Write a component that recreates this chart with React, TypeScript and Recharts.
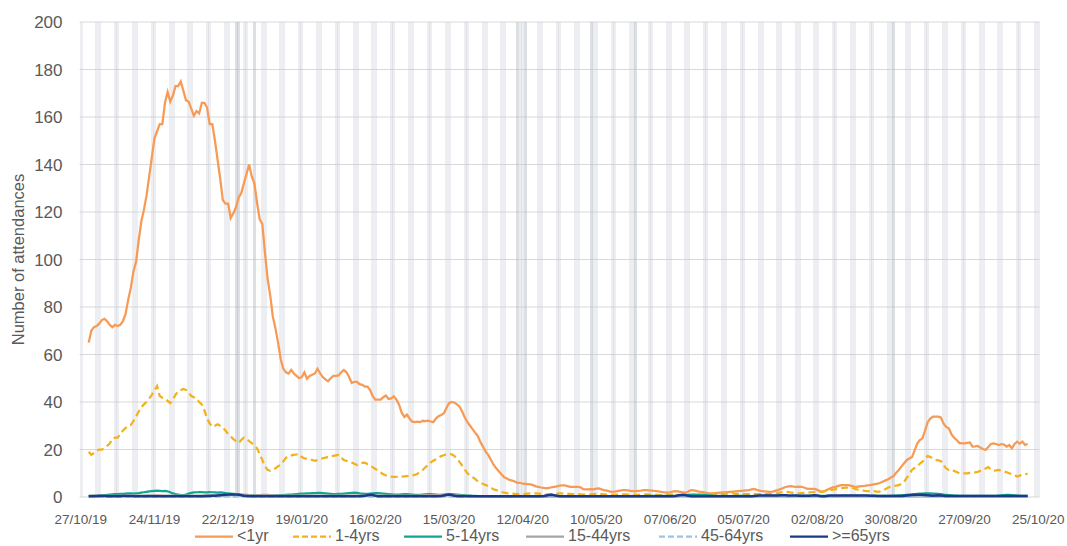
import React from 'react';
import { ComposedChart, Bar, Line, XAxis, YAxis, CartesianGrid } from 'recharts';

// ---- categories: one per day, 27/10/19 .. 25/10/20 ----
const START_UTC = Date.UTC(2019, 9, 27);
const NUM_DAYS = 365;
const SERIES_START_DAY = 3; // first plotted value is 30/10/19

const tickLabels = ['27/10/19', '24/11/19', '22/12/19', '19/01/20', '16/02/20', '15/03/20', '12/04/20', '10/05/20', '07/06/20', '05/07/20', '02/08/20', '30/08/20', '27/09/20', '25/10/20'];
const yTicks = [0, 20, 40, 60, 80, 100, 120, 140, 160, 180, 200];
const bankHolidays = ['25/12/19', '26/12/19', '01/01/20', '10/04/20', '13/04/20', '08/05/20', '25/05/20', '31/08/20'];
const BAND_VALUE = 200;

// ---- series (daily, from 30/10/19) ----
const under1 = [
  65, 70, 71.5, 72, 73, 74.5, 75, 74, 72.5, 71.5,
  72.5, 72, 72.5, 74, 77, 83, 88, 95, 99, 108,
  116, 121, 127, 135, 143, 151, 154, 157, 157, 166,
  170.5, 166.5, 169, 173, 173, 175, 171, 167, 166.5, 163.5,
  160.5, 162.5, 161.5, 166, 166, 164, 157, 157, 150, 142,
  134, 125, 123.5, 123.5, 117.5, 119.5, 122, 126, 128, 132,
  136, 140, 135, 132, 124, 117, 115, 103, 92, 85,
  76, 71, 65, 58, 54, 52.5, 52, 53.5, 52, 51,
  50, 50.5, 52.5, 49.8, 51, 51.5, 52, 54, 52,
  50.5, 49.5, 48.7, 50, 51, 51, 51.2, 52.5, 53.5, 52.5,
  50.5, 48, 48.5, 48.5, 47.5, 47.2, 46.5, 46.5, 45, 42.5,
  41, 41, 41, 42, 42.7, 41.3, 41.5, 42.4, 41, 38.9,
  35.5, 33.7, 34.7, 33, 31.7, 31.5, 31.7, 31.5, 32.1, 32,
  32.1, 31.8, 31.5, 33, 34, 34.5, 35.2, 37.5, 39.5, 40,
  39.8, 39, 38, 36, 33.5, 31.5, 30, 28.5, 27, 25.5,
  23, 21, 19, 17.5, 15.5, 13.5, 12, 10.7, 9.5, 8.3,
  7.8, 7.2, 6.9, 6.5, 6, 6, 5.6, 5.5, 5.4, 5.3,
  5, 4.5, 4.3, 4, 3.8, 3.6, 3.8, 4.1, 4.3, 4.5,
  4.8, 4.9, 4.9, 4.6, 4.3, 4.3, 4.3, 4.3, 4.1, 3.3,
  3.2, 3.2, 3.3, 3.2, 3.5, 3.6, 3.2, 2.9, 2.7, 2.4,
  2.2, 2.3, 2.5, 2.7, 2.9, 2.9, 2.8, 2.6, 2.5, 2.5,
  2.6, 2.7, 2.9, 2.9, 2.8, 2.7, 2.6, 2.5, 2.3, 2.1,
  1.9, 1.8, 2.0, 2.3, 2.5, 2.4, 2.2, 2.0, 1.8, 2.3,
  2.9, 2.8, 2.6, 2.3, 2.2, 2.0, 1.7, 1.5, 1.5, 1.6,
  1.7, 1.8, 1.9, 2.0, 2.1, 2.2, 2.3, 2.4, 2.5,
  2.6, 2.7, 2.8, 2.9, 3.2, 3.4, 3.0, 2.7, 2.5, 2.4,
  2.3, 2.2, 2.3, 2.6, 2.9, 3.3, 3.8, 4.2, 4.5, 4.6,
  4.4, 4.3, 4.4, 4.3, 4.0, 3.5, 3.4, 3.4, 3.4, 3.0,
  2.5, 2.2, 2.6, 3.2, 3.7, 4.1, 4.3, 4.7, 5.0, 5.0,
  5.0, 5.0, 4.7, 4.4, 4.3, 4.5, 4.6, 4.7, 4.9, 5.0,
  5.2, 5.4, 5.6, 6.0, 6.5, 7.0, 7.5, 8.2, 8.8, 10.2,
  11.4, 12.8, 14.2, 15.5, 16.2, 16.8, 19.5, 22.5, 24, 24.7,
  28, 31.5, 33, 33.8, 33.8, 33.8, 33.5, 31, 29.5, 28.9,
  26.5, 25, 24, 22.8, 22.6, 22.6, 22.8, 23, 21.2, 21.3,
  21.5, 20.8, 20.2, 19.8, 21, 22.3, 22.6, 22.3, 21.9, 22.3,
  22.1, 21.2, 21.9, 20.5, 22.3, 23.3, 22.5, 23.3, 21.9, 22.3,
];

const age1to4 = [
  19, 17.8, 18.5, 19.5, 20, 20, 20.5, 21.5, 22.5, 24.5,
  25, 25, 26.5, 28, 29, 30, 30.3, 32, 33.8, 36,
  37.8, 39, 40.1, 41.5, 43, 45, 46.7, 42.5, 41.8, 41.5,
  40.5, 39.5, 41, 43, 44.5, 45, 45.5, 45.1, 44, 42.5,
  42, 41.3, 40, 39, 36.5, 33, 31, 29.5, 30, 30.6,
  30, 29.2, 28, 26.5, 25.5, 24.4, 23.5, 22.7, 24, 25,
  24.4, 23.5, 22.7, 21.5, 20.5, 18, 15.6, 13, 11.4, 11,
  11.5, 12.1, 13, 13.5, 15, 16.5, 17.2, 17.5, 17.7, 17.9,
  18.1, 16.8, 16.3, 16.2, 16, 15.6, 15.2, 15.5, 16,
  16.3, 16.6, 16.8, 17, 17.3, 17.5, 17.7, 16.5, 15.6, 15.2,
  14.9, 14.5, 14, 13.5, 14, 14.4, 14.5, 13.8, 13.2, 12.5,
  11.8, 11.1, 10.3, 9.6, 9.1, 8.8, 8.6, 8.5, 8.5, 8.5,
  8.6, 8.7, 8.8, 8.9, 9.1, 9.3, 9.8, 10.6, 11.4, 12.5,
  13.5, 14.5, 15.3, 15.9, 16.6, 17.2, 17.6, 18, 18.1, 18,
  17.3, 16, 14.8, 13.2, 11.5, 10, 9, 8.3, 7.5, 6.5,
  6, 5.5, 5, 4.5, 3.8, 3.2, 2.9, 2.5, 2.1, 1.8,
  1.6, 1.5, 1.4, 1.3, 1.2, 1.2, 1.2, 1.3, 1.4, 1.5,
  1.5, 1.5, 1.4, 1.3, 1.2, 1.1, 1.1, 1.2, 1.3, 1.4,
  1.5, 1.5, 1.4, 1.3, 1.3, 1.2, 1.2, 1.2, 1.1, 1.0,
  1.0, 1.0, 1.1, 1.2, 1.3, 1.3, 1.2, 1.1, 1.0, 1.0,
  0.9, 0.9, 1.0, 1.0, 1.1, 1.1, 1.0, 1.0, 0.9, 0.9,
  0.9, 1.0, 1.0, 1.1, 1.0, 1.0, 0.9, 0.9, 0.8, 0.8,
  0.9, 0.9, 1.0, 1.0, 0.9, 0.9, 0.8, 0.8, 0.9, 1.0,
  1.0, 1.0, 0.9, 0.9, 1.0, 1.0, 1.0, 1.1, 1.1, 1.2,
  1.2, 1.3, 1.3, 1.4, 1.4, 1.5, 1.5, 1.3, 1.3,
  1.2, 1.2, 1.2, 1.2, 1.3, 1.3, 1.2, 1.2, 1.2, 1.2,
  1.2, 1.2, 1.3, 1.4, 1.6, 1.9, 2.1, 2.2, 2.1, 1.9,
  1.7, 1.5, 1.5, 1.6, 1.7, 1.8, 1.9, 2.0, 2.1, 2.2,
  2.2, 2.3, 2.5, 2.7, 2.9, 3.1, 3.3, 3.5, 3.6, 3.8,
  3.9, 4.0, 4.0, 3.6, 3.2, 3.0, 2.8, 2.6, 2.5, 2.5,
  2.5, 2.4, 2.2, 2.4, 2.8, 3.4, 4.0, 4.3, 4.6, 4.8,
  5.0, 5.6, 6.4, 8.0, 9.6, 11.4, 12.2, 13.0, 14.0, 14.9,
  16.0, 17.3, 16.8, 16.2, 15.6, 15.4, 15.2, 13.5, 12, 11.4,
  11.6, 11, 10.5, 10, 10, 10, 10, 10.2, 10.4, 10.4,
  10.6, 11, 11.4, 12, 12.6, 11.6, 11.1, 11.2, 11.4, 11,
  10.8, 10.4, 10, 9.7, 9.2, 8.6, 9, 9.4, 9.6, 9.7,
];

const age5to14 = [
  0.5, 0.5, 0.6, 0.6, 0.7, 0.7, 0.8, 0.9, 1.0, 1.1,
  1.2, 1.2, 1.3, 1.3, 1.4, 1.5, 1.5, 1.4, 1.5, 1.6,
  1.8, 2.0, 2.2, 2.4, 2.5, 2.6, 2.7, 2.6, 2.5, 2.6,
  2.4, 2.0, 1.5, 1.2, 1.0, 0.8, 0.8, 1.0, 1.4, 1.7,
  1.9, 2.0, 2.1, 2.1, 2.0, 2.0, 2.1, 2.0, 1.9, 1.8,
  1.9, 1.8, 1.6, 1.5, 1.4, 1.3, 1.2, 1.1, 1.0, 0.9,
  0.9, 0.8, 0.8, 0.7, 0.7, 0.7, 0.6, 0.6, 0.6, 0.6,
  0.6, 0.7, 0.7, 0.8, 0.8, 0.9, 1.0, 1.0, 1.1, 1.2,
  1.3, 1.4, 1.4, 1.5, 1.5, 1.6, 1.6, 1.7, 1.7, 1.6,
  1.5, 1.4, 1.3, 1.2, 1.2, 1.3, 1.3, 1.4, 1.5, 1.6,
  1.7, 1.8, 1.7, 1.5, 1.4, 1.3, 1.3, 1.4, 1.5, 1.6,
  1.6, 1.5, 1.4, 1.3, 1.2, 1.1, 1.0, 1.0, 1.0, 1.1,
  1.2, 1.2, 1.1, 1.0, 0.9, 0.9, 0.9, 1.0, 1.1, 1.2,
  1.2, 1.1, 1.0, 0.9, 0.9, 1.0, 1.1, 1.2, 1.2, 1.1,
  1.0, 0.9, 0.8, 0.7, 0.6, 0.6, 0.5, 0.5, 0.4, 0.4,
  0.4, 0.3, 0.3, 0.3, 0.3, 0.3, 0.3, 0.2, 0.2, 0.2,
  0.2, 0.2, 0.2, 0.3, 0.3, 0.3, 0.3, 0.3, 0.3, 0.3,
  0.3, 0.3, 0.3, 0.3, 0.3, 0.3, 0.4, 0.4, 0.4, 0.4,
  0.4, 0.4, 0.4, 0.3, 0.3, 0.3, 0.3, 0.3, 0.3, 0.3,
  0.3, 0.3, 0.3, 0.3, 0.3, 0.3, 0.3, 0.4, 0.4, 0.4,
  0.4, 0.4, 0.4, 0.4, 0.4, 0.4, 0.4, 0.4, 0.4, 0.4,
  0.4, 0.4, 0.5, 0.5, 0.5, 0.5, 0.5, 0.5, 0.5, 0.5,
  0.5, 0.5, 0.5, 0.5, 0.6, 0.6, 0.6, 0.7, 0.8, 0.9,
  1.0, 1.0, 1.0, 0.9, 0.9, 0.8, 0.7, 0.6, 0.5, 0.5,
  0.5, 0.5, 0.5, 0.4, 0.4, 0.4, 0.5, 0.5, 0.5, 0.5,
  0.5, 0.5, 0.4, 0.4, 0.4, 0.5, 0.5, 0.5, 0.5, 0.5,
  0.5, 0.5, 0.5, 0.5, 0.5, 0.4, 0.4, 0.4, 0.5, 0.5,
  0.5, 0.5, 0.5, 0.5, 0.5, 0.5, 0.5, 0.5, 0.5, 0.5,
  0.5, 0.5, 0.5, 0.4, 0.4, 0.4, 0.5, 0.5, 0.5, 0.5,
  0.5, 0.5, 0.5, 0.5, 0.5, 0.5, 0.5, 0.5, 0.5, 0.5,
  0.5, 0.5, 0.5, 0.5, 0.5, 0.5, 0.6, 0.6, 0.7, 0.7,
  0.8, 0.9, 1.0, 1.1, 1.2, 1.3, 1.4, 1.4, 1.5, 1.5,
  1.5, 1.4, 1.4, 1.3, 1.2, 1.0, 0.9, 0.8, 0.7, 0.6,
  0.6, 0.5, 0.5, 0.5, 0.5, 0.5, 0.5, 0.5, 0.5, 0.5,
  0.5, 0.5, 0.5, 0.5, 0.5, 0.5, 0.6, 0.7, 0.8, 0.9,
  0.9, 0.8, 0.7, 0.6, 0.5, 0.5, 0.5, 0.5,
];

const age15to44 = [
  0.5, 0.5, 0.5, 0.6, 0.6, 0.6, 0.6, 0.5, 0.5, 0.5,
  0.5, 0.5, 0.6, 0.6, 0.6, 0.6, 0.6, 0.6, 0.6, 0.6,
  0.6, 0.6, 0.7, 0.7, 0.7, 0.7, 0.7, 0.7, 0.6, 0.6,
  0.6, 0.6, 0.6, 0.6, 0.6, 0.6, 0.6, 0.6, 0.6, 0.6,
  0.6, 0.6, 0.6, 0.6, 0.7, 0.7, 0.7, 0.7, 0.7, 0.7,
  0.7, 0.7, 0.7, 0.8, 0.8, 0.9, 0.9, 0.9, 0.8, 0.8,
  0.8, 0.8, 0.7, 0.7, 0.8, 0.8, 0.9, 0.9, 0.9, 0.8,
  0.7, 0.7, 0.6, 0.6, 0.6, 0.6, 0.6, 0.6, 0.6, 0.6,
  0.6, 0.6, 0.6, 0.6, 0.6, 0.6, 0.6, 0.6, 0.6, 0.6,
  0.6, 0.6, 0.6, 0.6, 0.6, 0.6, 0.6, 0.6, 0.6, 0.6,
  0.6, 0.6, 0.6, 0.6, 0.6, 0.6, 0.6, 0.6, 0.6, 0.6,
  0.6, 0.6, 0.6, 0.6, 0.6, 0.6, 0.6, 0.6, 0.6, 0.6,
  0.6, 0.6, 0.6, 0.6, 0.6, 0.6, 0.7, 0.7, 0.8, 0.8,
  0.8, 0.8, 0.8, 0.8, 0.8, 0.8, 0.8, 0.8, 0.8, 0.7,
  0.7, 0.6, 0.6, 0.5, 0.5, 0.5, 0.4, 0.4, 0.4, 0.4,
  0.3, 0.3, 0.3, 0.3, 0.3, 0.3, 0.3, 0.3, 0.3, 0.3,
  0.3, 0.3, 0.3, 0.3, 0.3, 0.3, 0.3, 0.3, 0.3, 0.3,
  0.3, 0.3, 0.3, 0.3, 0.3, 0.3, 0.3, 0.3, 0.3, 0.3,
  0.3, 0.3, 0.3, 0.3, 0.3, 0.3, 0.3, 0.3, 0.3, 0.3,
  0.3, 0.3, 0.3, 0.3, 0.3, 0.3, 0.3, 0.3, 0.3, 0.3,
  0.3, 0.3, 0.3, 0.3, 0.3, 0.3, 0.3, 0.3, 0.3, 0.3,
  0.3, 0.3, 0.3, 0.3, 0.3, 0.3, 0.3, 0.3, 0.3, 0.3,
  0.3, 0.3, 0.3, 0.3, 0.3, 0.3, 0.3, 0.3, 0.3, 0.3,
  0.3, 0.3, 0.3, 0.3, 0.3, 0.3, 0.3, 0.3, 0.3, 0.3,
  0.3, 0.3, 0.3, 0.3, 0.3, 0.3, 0.3, 0.3, 0.3, 0.3,
  0.3, 0.3, 0.3, 0.3, 0.3, 0.3, 0.3, 0.3, 0.3, 0.3,
  0.3, 0.3, 0.3, 0.3, 0.3, 0.3, 0.3, 0.3, 0.3, 0.3,
  0.3, 0.3, 0.3, 0.3, 0.3, 0.3, 0.3, 0.3, 0.3, 0.3,
  0.3, 0.3, 0.3, 0.3, 0.3, 0.3, 0.3, 0.3, 0.3, 0.3,
  0.3, 0.3, 0.3, 0.3, 0.3, 0.3, 0.3, 0.3, 0.3, 0.3,
  0.3, 0.3, 0.3, 0.3, 0.3, 0.3, 0.3, 0.3, 0.3, 0.3,
  0.3, 0.3, 0.3, 0.3, 0.3, 0.3, 0.3, 0.3, 0.3, 0.3,
  0.3, 0.3, 0.3, 0.3, 0.3, 0.3, 0.3, 0.3, 0.3, 0.3,
  0.3, 0.3, 0.3, 0.3, 0.3, 0.3, 0.3, 0.3, 0.3, 0.3,
  0.3, 0.3, 0.3, 0.3, 0.3, 0.3, 0.3, 0.3, 0.3, 0.3,
  0.3, 0.3, 0.3, 0.3, 0.3, 0.3, 0.3, 0.3,
];

const age45to64 = [
  0.2, 0.2, 0.2, 0.2, 0.2, 0.2, 0.2, 0.2, 0.2, 0.2,
  0.2, 0.2, 0.2, 0.2, 0.2, 0.2, 0.2, 0.2, 0.2, 0.2,
  0.2, 0.2, 0.2, 0.2, 0.2, 0.2, 0.2, 0.2, 0.2, 0.2,
  0.2, 0.2, 0.2, 0.2, 0.2, 0.2, 0.2, 0.2, 0.2, 0.2,
  0.2, 0.2, 0.2, 0.2, 0.2, 0.2, 0.2, 0.2, 0.2, 0.2,
  0.2, 0.2, 0.2, 0.2, 0.2, 0.2, 0.2, 0.2, 0.2, 0.2,
  0.2, 0.2, 0.2, 0.2, 0.2, 0.2, 0.2, 0.2, 0.2, 0.2,
  0.2, 0.2, 0.2, 0.2, 0.2, 0.2, 0.2, 0.2, 0.2, 0.2,
  0.2, 0.2, 0.2, 0.2, 0.2, 0.2, 0.2, 0.2, 0.2, 0.2,
  0.2, 0.2, 0.2, 0.2, 0.2, 0.2, 0.2, 0.2, 0.2, 0.2,
  0.2, 0.2, 0.2, 0.2, 0.2, 0.2, 0.2, 0.2, 0.2, 0.2,
  0.2, 0.2, 0.2, 0.2, 0.2, 0.2, 0.2, 0.2, 0.2, 0.2,
  0.2, 0.2, 0.2, 0.2, 0.2, 0.2, 0.2, 0.2, 0.2, 0.2,
  0.2, 0.2, 0.2, 0.2, 0.2, 0.2, 0.2, 0.2, 0.2, 0.2,
  0.2, 0.2, 0.2, 0.2, 0.2, 0.2, 0.2, 0.2, 0.2, 0.2,
  0.2, 0.2, 0.2, 0.2, 0.2, 0.2, 0.2, 0.2, 0.2, 0.2,
  0.2, 0.2, 0.2, 0.2, 0.2, 0.2, 0.2, 0.2, 0.2, 0.2,
  0.2, 0.2, 0.2, 0.2, 0.2, 0.2, 0.2, 0.2, 0.2, 0.2,
  0.2, 0.2, 0.2, 0.2, 0.2, 0.2, 0.2, 0.2, 0.2, 0.2,
  0.2, 0.2, 0.2, 0.2, 0.2, 0.2, 0.2, 0.2, 0.2, 0.2,
  0.2, 0.2, 0.2, 0.2, 0.2, 0.2, 0.2, 0.2, 0.2, 0.2,
  0.2, 0.2, 0.2, 0.2, 0.2, 0.2, 0.2, 0.2, 0.2, 0.2,
  0.2, 0.2, 0.2, 0.2, 0.2, 0.2, 0.2, 0.2, 0.2, 0.2,
  0.2, 0.2, 0.2, 0.2, 0.2, 0.2, 0.2, 0.2, 0.2, 0.2,
  0.2, 0.2, 0.2, 0.2, 0.2, 0.2, 0.2, 0.2, 0.2, 0.2,
  0.2, 0.2, 0.2, 0.2, 0.2, 0.2, 0.2, 0.2, 0.2, 0.2,
  0.2, 0.2, 0.2, 0.2, 0.2, 0.2, 0.2, 0.2, 0.2, 0.2,
  0.2, 0.2, 0.2, 0.2, 0.2, 0.2, 0.2, 0.2, 0.2, 0.2,
  0.2, 0.2, 0.2, 0.2, 0.2, 0.2, 0.2, 0.2, 0.2, 0.2,
  0.2, 0.2, 0.2, 0.2, 0.2, 0.2, 0.2, 0.2, 0.2, 0.2,
  0.2, 0.2, 0.2, 0.2, 0.2, 0.2, 0.2, 0.2, 0.2, 0.2,
  0.2, 0.2, 0.2, 0.2, 0.2, 0.2, 0.2, 0.2, 0.2, 0.2,
  0.2, 0.2, 0.2, 0.2, 0.2, 0.2, 0.2, 0.2, 0.2, 0.2,
  0.2, 0.2, 0.2, 0.2, 0.2, 0.2, 0.2, 0.2, 0.2, 0.2,
  0.2, 0.2, 0.2, 0.2, 0.2, 0.2, 0.2, 0.2, 0.2, 0.2,
  0.2, 0.2, 0.2, 0.2, 0.2, 0.2, 0.2, 0.2,
];

const age65plus = [
  0.3, 0.3, 0.3, 0.3, 0.4, 0.4, 0.4, 0.3, 0.3, 0.3,
  0.3, 0.3, 0.3, 0.4, 0.4, 0.4, 0.4, 0.3, 0.3, 0.3,
  0.3, 0.3, 0.3, 0.3, 0.3, 0.3, 0.3, 0.3, 0.3, 0.3,
  0.3, 0.3, 0.3, 0.3, 0.3, 0.3, 0.3, 0.3, 0.3, 0.3,
  0.3, 0.3, 0.3, 0.3, 0.3, 0.4, 0.4, 0.5, 0.5, 0.6,
  0.7, 0.8, 0.9, 1.0, 1.1, 1.1, 1.0, 0.9, 0.7, 0.5,
  0.4, 0.3, 0.3, 0.3, 0.3, 0.3, 0.3, 0.3, 0.3, 0.3,
  0.3, 0.3, 0.3, 0.3, 0.3, 0.3, 0.3, 0.3, 0.3, 0.3,
  0.3, 0.3, 0.3, 0.3, 0.3, 0.3, 0.3, 0.3, 0.3, 0.3,
  0.3, 0.3, 0.3, 0.3, 0.3, 0.3, 0.3, 0.3, 0.3, 0.3,
  0.3, 0.3, 0.3, 0.3, 0.4, 0.5, 0.7, 0.9, 0.8, 0.5,
  0.3, 0.3, 0.3, 0.3, 0.3, 0.3, 0.3, 0.3, 0.3, 0.3,
  0.3, 0.3, 0.3, 0.3, 0.3, 0.3, 0.3, 0.3, 0.3, 0.3,
  0.3, 0.3, 0.3, 0.3, 0.4, 0.6, 0.8, 1.0, 0.8, 0.5,
  0.3, 0.3, 0.3, 0.3, 0.3, 0.3, 0.3, 0.3, 0.3, 0.3,
  0.3, 0.3, 0.3, 0.3, 0.3, 0.3, 0.3, 0.3, 0.3, 0.3,
  0.3, 0.3, 0.3, 0.3, 0.3, 0.3, 0.3, 0.3, 0.3, 0.3,
  0.3, 0.3, 0.3, 0.4, 0.6, 0.8, 0.9, 0.7, 0.5, 0.3,
  0.3, 0.3, 0.3, 0.3, 0.3, 0.3, 0.3, 0.3, 0.3, 0.3,
  0.3, 0.3, 0.3, 0.3, 0.3, 0.3, 0.3, 0.3, 0.3, 0.3,
  0.3, 0.3, 0.3, 0.3, 0.3, 0.3, 0.3, 0.3, 0.3, 0.3,
  0.3, 0.3, 0.3, 0.3, 0.3, 0.3, 0.3, 0.3, 0.3, 0.3,
  0.3, 0.3, 0.3, 0.4, 0.6, 0.8, 0.9, 0.7, 0.5, 0.3,
  0.3, 0.3, 0.3, 0.3, 0.3, 0.3, 0.3, 0.3, 0.3, 0.3,
  0.3, 0.3, 0.3, 0.3, 0.3, 0.3, 0.3, 0.3, 0.3, 0.3,
  0.3, 0.3, 0.3, 0.4, 0.5, 0.6, 0.6, 0.6, 0.6, 0.6,
  0.6, 0.6, 0.6, 0.7, 0.7, 0.7, 0.6, 0.6, 0.6, 0.6,
  0.5, 0.5, 0.5, 0.5, 0.5, 0.6, 0.7, 0.6, 0.4, 0.3,
  0.3, 0.5, 0.6, 0.6, 0.6, 0.6, 0.6, 0.6, 0.6, 0.6,
  0.6, 0.6, 0.6, 0.6, 0.6, 0.6, 0.6, 0.5, 0.5, 0.5,
  0.4, 0.4, 0.4, 0.4, 0.4, 0.4, 0.4, 0.4, 0.4, 0.4,
  0.5, 0.6, 0.7, 0.8, 0.9, 1.0, 1.0, 0.9, 0.8, 0.7,
  0.6, 0.5, 0.6, 0.7, 0.6, 0.5, 0.4, 0.4, 0.4, 0.4,
  0.4, 0.4, 0.4, 0.4, 0.4, 0.4, 0.4, 0.4, 0.4, 0.4,
  0.4, 0.4, 0.4, 0.4, 0.4, 0.4, 0.4, 0.4, 0.4, 0.4,
  0.4, 0.4, 0.4, 0.4, 0.4, 0.4, 0.4, 0.4,
];

// ---- styling ----
const FONT = "'Liberation Sans', Arial, sans-serif";
const TEXT = '#595959';
const C_U1 = '#F79A55';
const C_14 = '#F2B21B';
const C_514 = '#12A594';
const C_1544 = '#A5A5A5';
const C_4564 = '#9DC3E6';
const C_65 = '#1B3A84';
const C_WEEKEND = '#C8CCD5';
const C_HOLIDAY = '#B2B8C1';

const pad = (n: number) => (n < 10 ? '0' + n : '' + n);

const data = Array.from({ length: NUM_DAYS }, (_, i) => {
  const d = new Date(START_UTC + i * 86400000);
  const date = `${pad(d.getUTCDate())}/${pad(d.getUTCMonth() + 1)}/${pad(d.getUTCFullYear() % 100)}`;
  const dow = d.getUTCDay();
  const isHol = bankHolidays.includes(date);
  const isWeekend = dow === 0 || dow === 6;
  const k = i - SERIES_START_DAY;
  const pick = (arr: number[]) => (k >= 0 && k < arr.length ? arr[k] : null);
  return {
    date,
    band: isHol || isWeekend ? BAND_VALUE : null,
    hol: isHol,
    u1: pick(under1),
    a14: pick(age1to4),
    a514: pick(age5to14),
    a1544: pick(age15to44),
    a4564: pick(age45to64),
    a65: pick(age65plus),
  };
});

const legendItems = [
  { name: '<1yr', color: C_U1, dash: undefined as string | undefined, x: 195 },
  { name: '1-4yrs', color: C_14, dash: '6 3', x: 293 },
  { name: '5-14yrs', color: C_514, dash: undefined, x: 404 },
  { name: '15-44yrs', color: C_1544, dash: undefined, x: 526 },
  { name: '45-64yrs', color: C_4564, dash: '6 3', x: 659 },
  { name: '>=65yrs', color: C_65, dash: undefined, x: 790 },
];

const YTitle = (props: any) => {
  const vb = props.viewBox || { x: 0, y: 22, width: 80, height: 475 };
  const cx = 18;
  const cy = vb.y + vb.height / 2;
  return (
    <text x={cx} y={cy} transform={`rotate(-90, ${cx}, ${cy})`} textAnchor="middle" dominantBaseline="central" fontSize={16.5} fill={TEXT} fontFamily={FONT}>
      Number of attendances
    </text>
  );
};

const BandShape = (props: any) => {
  const { x, y, width, height, payload } = props;
  if (!height || height <= 0) return null;
  const hol = payload && payload.hol;
  return (
    <rect x={x} y={y} width={width} height={height} fill={hol ? C_HOLIDAY : C_WEEKEND} fillOpacity={hol ? 0.45 : 0.33} shapeRendering="crispEdges" />
  );
};

export default function App() {
  return (
    <div style={{ position: 'absolute', left: 0, top: 0, width: 1067, height: 546, background: '#fff', overflow: 'hidden' }}>
      <ComposedChart width={1067} height={546} data={data} margin={{ top: 22, right: 27.5, bottom: 19, left: 0 }} barCategoryGap={0} barGap={0}>
        <CartesianGrid horizontal vertical={false} stroke="#D9D9D9" strokeWidth={1} />
        <XAxis dataKey="date" interval={27} tickLine={false} axisLine={false} tickSize={0} tickMargin={17} height={30}
          tick={{ fontSize: 13.5, fill: TEXT, fontFamily: FONT }} />
        <YAxis domain={[0, 200]} ticks={yTicks} interval={0} tickLine={false} axisLine={false} width={79.5} tickSize={0} tickMargin={17}
          tick={{ fontSize: 17, fill: TEXT, fontFamily: FONT }} label={<YTitle />} />
        <Bar dataKey="band" isAnimationActive={false} shape={<BandShape />} />
        <Line dataKey="u1" stroke={C_U1} strokeWidth={2.25} dot={false} isAnimationActive={false} />
        <Line dataKey="a14" stroke={C_14} strokeWidth={2.25} strokeDasharray="7 4" dot={false} isAnimationActive={false} />
        <Line dataKey="a514" stroke={C_514} strokeWidth={2.25} dot={false} isAnimationActive={false} />
        <Line dataKey="a1544" stroke={C_1544} strokeWidth={2.25} dot={false} isAnimationActive={false} />
        <Line dataKey="a4564" stroke={C_4564} strokeWidth={2.25} strokeDasharray="6 3" dot={false} isAnimationActive={false} />
        <Line dataKey="a65" stroke={C_65} strokeWidth={2.5} dot={false} isAnimationActive={false} />
      </ComposedChart>
      <svg width={1067} height={546} style={{ position: 'absolute', left: 0, top: 0, pointerEvents: 'none' }}>
        {legendItems.map((it) => (
          <g key={it.name}>
            <line x1={it.x} x2={it.x + 38} y1={536.5} y2={536.5} stroke={it.color} strokeWidth={2.25} strokeDasharray={it.dash} />
            <text x={it.x + 42} y={541} fontSize={16} fill={TEXT} fontFamily={FONT}>{it.name}</text>
          </g>
        ))}
      </svg>
    </div>
  );
}
